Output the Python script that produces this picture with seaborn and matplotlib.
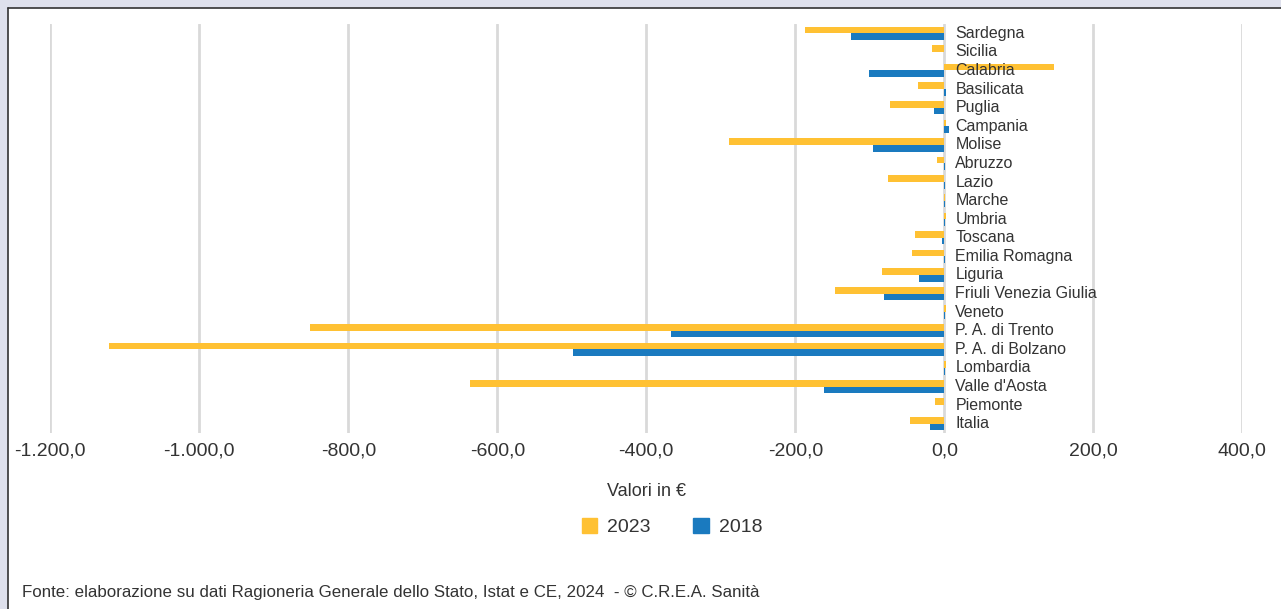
import pandas as pd
import matplotlib.pyplot as plt
import seaborn as sns
from matplotlib import font_manager
from matplotlib.patches import Rectangle
from matplotlib.ticker import FuncFormatter

regioni = ['Sardegna', 'Sicilia', 'Calabria', 'Basilicata', 'Puglia', 'Campania',
           'Molise', 'Abruzzo', 'Lazio', 'Marche', 'Umbria', 'Toscana',
           'Emilia Romagna', 'Liguria', 'Friuli Venezia Giulia', 'Veneto',
           'P. A. di Trento', 'P. A. di Bolzano', 'Lombardia', "Valle d'Aosta",
           'Piemonte', 'Italia']
val_2023 = [-187, -16.5, 147, -35, -73, 2, -289, -10, -75.5, 0.5, 2, -40,
            -44, -84, -147, 2, -852, -1121, 2, -636, -12.5, -46]
val_2018 = [-125.5, 0, -100.5, 2, -14, 6, -96, 1.5, 1.5, 1.5, 1.5, -3,
            1.5, -33.5, -81, 1.5, -367, -499, 1.5, -161.5, -1, -19]
anni = ['2023', '2018']
colori = ['#FFC133', '#1A7ABF']

W, H = 1281, 609

sns.set_theme(style='white')
names = {f.name for f in font_manager.fontManager.ttflist}
font = 'Liberation Sans Narrow' if 'Liberation Sans Narrow' in names else 'Liberation Sans'
plt.rcParams['font.family'] = [font, 'DejaVu Sans']
testo = '#333333'

df = pd.DataFrame({
    'Regione': regioni * 2,
    'Valore': val_2023 + val_2018,
    'Anno': [anni[0]] * len(regioni) + [anni[1]] * len(regioni),
})

fig = plt.figure(figsize=(W / 100, H / 100), dpi=100)
ax = fig.add_axes([50.3 / W, 1 - 433 / H, (1242.3 - 50.3) / W, (433 - 24) / H])

sns.barplot(data=df, y='Regione', x='Valore', hue='Anno', order=regioni,
            hue_order=anni, palette=colori, orient='h', width=0.72,
            saturation=1, linewidth=0, ax=ax, legend=False, zorder=3)

ax.set_xlim(-1200, 400)
ax.set_xticks(range(-1200, 401, 200))
ax.xaxis.set_major_formatter(FuncFormatter(
    lambda v, p: f"{v:,.1f}".replace(',', 'X').replace('.', ',').replace('X', '.')))
ax.grid(axis='x', color='#D9D9D9', linewidth=2, zorder=0)
ax.set_axisbelow(True)
ax.set_yticks([])
ax.set_ylabel('')
ax.set_xlabel('Valori in €', fontsize=13, color=testo, labelpad=17)
ax.tick_params(axis='x', length=0, pad=7, labelsize=14, labelcolor=testo)
sns.despine(ax=ax, left=True, bottom=True)

for i, nome in enumerate(regioni):
    ax.annotate(nome, xy=(0, i), xytext=(8, 0), textcoords='offset points',
                ha='left', va='center', fontsize=11.5, color=testo, zorder=5)

handles = [Rectangle((0, 0), 1, 1, color=c) for c in colori]
fig.legend(handles, anni, loc='center', bbox_to_anchor=(672 / W, 1 - 527 / H),
           ncol=2, frameon=False, fontsize=14, handlelength=0.8, handleheight=0.8,
           handletextpad=0.5, columnspacing=2.2, labelcolor=testo)

fig.text(22 / W, 1 - 592 / H,
         'Fonte: elaborazione su dati Ragioneria Generale dello Stato, Istat e CE, 2024  - © C.R.E.A. Sanità',
         fontsize=12.2, color=testo, va='center', ha='left')

# cornice in alto e a sinistra
fig.patches.append(Rectangle((0, 1 - 7 / H), 1, 7 / H, transform=fig.transFigure,
                             color='#DEE0EC', zorder=-1))
fig.patches.append(Rectangle((0, 0), 7 / W, 1, transform=fig.transFigure,
                             color='#DEE0EC', zorder=-1))
fig.add_artist(plt.Line2D([7.5 / W, 1], [1 - 7.5 / H, 1 - 7.5 / H],
                          transform=fig.transFigure, color='#333333', linewidth=1.2))
fig.add_artist(plt.Line2D([7.5 / W, 7.5 / W], [0, 1 - 7.5 / H],
                          transform=fig.transFigure, color='#333333', linewidth=1.2))

fig.savefig('out.png', dpi=100)
